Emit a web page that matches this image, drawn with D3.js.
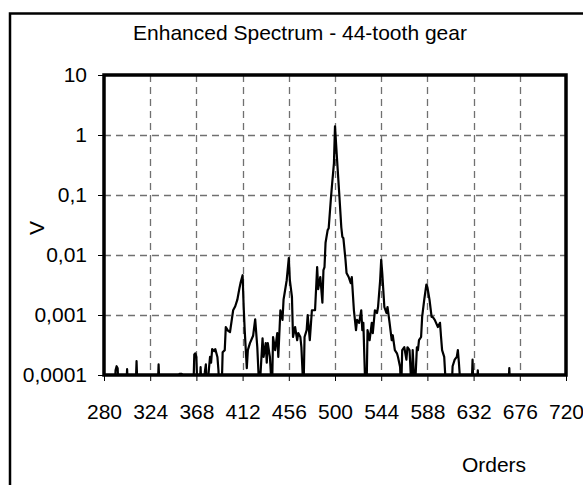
<!DOCTYPE html>
<html>
<head>
<meta charset="utf-8">
<script src="https://cdn.jsdelivr.net/npm/d3@7"></script>
<style>
  body { margin: 0; background: #fff; }
  svg { display: block; font-family: "Liberation Sans", Arial, sans-serif; }
</style>
</head>
<body>
<svg width="583" height="485"></svg>
<script>
// data (values below 0,0001 are under the axis)
const LOW = 0.00005
const orders = [280, 290, 291, 292, 293, 294, 301, 302, 303, 310, 311, 312, 331, 332, 333, 350, 352, 354, 356,
  365, 366, 367, 368, 369, 371, 372, 373, 376, 377, 378, 380, 381, 382, 383, 385, 386, 388, 389, 390,
  392, 393, 395, 396, 398, 400, 403, 405, 407, 409, 410, 412, 413, 414, 416, 417, 419, 422, 424, 426,
  428, 431, 432, 434, 435, 436, 438, 440, 441, 443, 445, 446, 448, 450, 451, 452, 454, 456, 457, 459,
  460, 462, 464, 465, 467, 468, 470, 471, 473, 474, 476, 478, 481, 483, 484, 486, 488, 489, 490, 491,
  493, 494, 496, 497, 499, 500, 502, 504, 506, 507, 508, 510, 511, 513, 515, 516, 518, 520, 521, 523,
  525, 526, 527, 529, 530, 531, 533, 535, 536, 538, 540, 541, 543, 544, 545, 547, 549, 550, 552, 554,
  555, 557, 559, 560, 562, 563, 564, 566, 568, 569, 571, 573, 574, 576, 578, 579, 580, 582, 583, 585,
  587, 588, 590, 592, 593, 595, 598, 600, 601, 602, 604, 606, 611, 612, 614, 616, 617, 618, 620, 630,
  631, 632, 635, 636, 637, 665, 666, 667, 720]
const volts = [LOW, LOW, 0.00012, 0.00014, 0.00013, LOW, LOW, 0.000125, LOW, LOW, 0.00017, LOW, LOW, 0.00015, LOW, LOW, 0.000105, 0.000105, LOW,
  LOW, 0.00022, 0.00023, 0.0002, LOW, LOW, 0.000135, LOW, 0.00011, 0.00015, LOW, 0.00013, 0.0002, 0.00016, 0.00027, 0.00025, 0.00027, 0.0002, 0.00012, LOW,
  LOW, 0.00024, 0.00026, 0.00063, 0.00055, 0.00052, 0.0012, 0.0014, 0.0018, 0.0028, 0.0034, 0.0046, 0.0014, 0.00056, 0.00013, 0.00026, 0.00034, 0.00045, 0.00085, 0.00029,
  LOW, 0.00041, 0.0002, 0.00034, 0.00016, 0.00034, 0.0002, LOW, 0.00043, 0.00026, 0.0005, 0.0002, 0.0012, 0.00083, 0.0018, 0.0023, 0.0038, 0.0089, 0.0038, 0.002,
  0.00043, 0.00063, 0.00038, 0.0005, 0.00043, 0.00029, LOW, 0.00043, 0.00056, 0.001, 0.00038, 0.0012, 0.0012, 0.0063, 0.0027, 0.0043, 0.0016, 0.0056, 0.0063, 0.016,
  0.026, 0.028, 0.083, 0.136, 0.34, 1.4, 0.38, 0.108, 0.029, 0.02, 0.019, 0.0083, 0.005, 0.0043, 0.0034, 0.0043, 0.0012, 0.00056, 0.00083, 0.00074,
  0.0012, 0.00056, 0.00074, LOW, LOW, 0.00056, 0.00038, 0.00074, 0.0005, 0.0012, 0.00108, 0.00136, 0.0038, 0.0083, 0.005, 0.00136, 0.00108, 0.00136, 0.00074, 0.00038,
  0.00046, 0.00026, 0.00023, 0.0002, 0.000136, LOW, 0.00026, 0.00029, 0.00018, 0.00029, 0.00026, LOW, 0.00026, LOW, 0.00029, 0.00026, 0.00038, 0.00043, 0.00093, 0.0018,
  0.0032, 0.0029, 0.0018, 0.00093, 0.00093, 0.00083, 0.00063, 0.00074, 0.00043, 0.00026, 0.0002, LOW, LOW, 0.00014, 0.00018, 0.0002, 0.00026, 0.00016, LOW, LOW,
  0.00018, LOW, LOW, 0.00012, LOW, LOW, 0.00013, LOW, LOW]

const xTicks = [280, 324, 368, 412, 456, 500, 544, 588, 632, 676, 720]
const yTicks = [0.0001, 0.001, 0.01, 0.1, 1, 10]
const yLabels = ["0,0001", "0,001", "0,01", "0,1", "1", "10"]

let svg = d3.select("svg")
let plotL = 104, plotR = 566, plotT = 75, plotB = 375
let fs = 21

let x = d3.scaleLinear().domain([280, 720]).range([plotL, plotR])
let y = d3.scaleLog().domain([0.0001, 10]).range([plotB, plotT])

// outer frame of the chart area
svg.append("rect")
    .attr("x", 10).attr("y", 13.5)
    .attr("width", 640).attr("height", 540)
    .attr("fill", "none").attr("stroke", "black").attr("stroke-width", 2.5)

// title
svg.append("text")
    .attr("x", 300).attr("y", 40)
    .attr("text-anchor", "middle")
    .attr("font-size", fs)
    .text("Enhanced Spectrum - 44-tooth gear")

// grid
let grid = svg.append("g")
grid.selectAll(".vg").data(xTicks.slice(1, -1)).enter().append("line")
    .attr("x1", d => Math.round(x(d)) + 0.5).attr("x2", d => Math.round(x(d)) + 0.5)
    .attr("y1", plotT).attr("y2", plotB)
    .attr("stroke", "#707070").attr("stroke-width", 1.3).attr("stroke-dasharray", "7,5")
grid.selectAll(".hg").data(yTicks.slice(1, -1)).enter().append("line")
    .attr("x1", plotL).attr("x2", plotR)
    .attr("y1", d => Math.round(y(d)) + 0.5).attr("y2", d => Math.round(y(d)) + 0.5)
    .attr("stroke", "#707070").attr("stroke-width", 1.3).attr("stroke-dasharray", "7,5")

// clip for the line
svg.append("clipPath").attr("id", "plot")
    .append("rect").attr("x", plotL).attr("y", plotT).attr("width", plotR - plotL).attr("height", plotB - plotT)

let pts = orders.map((o, i) => [o, volts[i]])
let line = d3.line().x(d => x(d[0])).y(d => y(d[1]))
svg.append("path")
    .attr("d", line(pts))
    .attr("clip-path", "url(#plot)")
    .attr("fill", "none").attr("stroke", "black").attr("stroke-width", 2.2)
    .attr("stroke-linejoin", "round")

// axes
let xAxis = d3.axisBottom(x).tickValues(xTicks).tickSize(6).tickPadding(23).tickFormat(d3.format("d"))
let gx = svg.append("g").attr("transform", `translate(0,${plotB})`).call(xAxis)
gx.select(".domain").remove()
gx.selectAll("text").attr("font-size", fs).attr("font-family", "Liberation Sans, Arial, sans-serif").attr("fill", "black")
gx.selectAll("line").attr("stroke", "black")

let yAxis = d3.axisLeft(y).tickValues(yTicks).tickSize(6).tickPadding(11).tickFormat((d, i) => yLabels[i])
let gy = svg.append("g").attr("transform", `translate(${plotL},0)`).call(yAxis)
gy.select(".domain").remove()
gy.selectAll("text").attr("font-size", fs).attr("font-family", "Liberation Sans, Arial, sans-serif").attr("fill", "black")
gy.selectAll("line").attr("stroke", "black")

// plot border
svg.append("rect")
    .attr("x", plotL).attr("y", plotT)
    .attr("width", plotR - plotL).attr("height", plotB - plotT)
    .attr("fill", "none").attr("stroke", "black").attr("stroke-width", 3.5)

// axis titles
svg.append("text")
    .attr("transform", "translate(44,228) rotate(-90)")
    .attr("text-anchor", "middle")
    .attr("font-size", fs)
    .text("V")
svg.append("text")
    .attr("x", 494).attr("y", 472)
    .attr("text-anchor", "middle")
    .attr("font-size", fs)
    .text("Orders")
</script>
</body>
</html>
